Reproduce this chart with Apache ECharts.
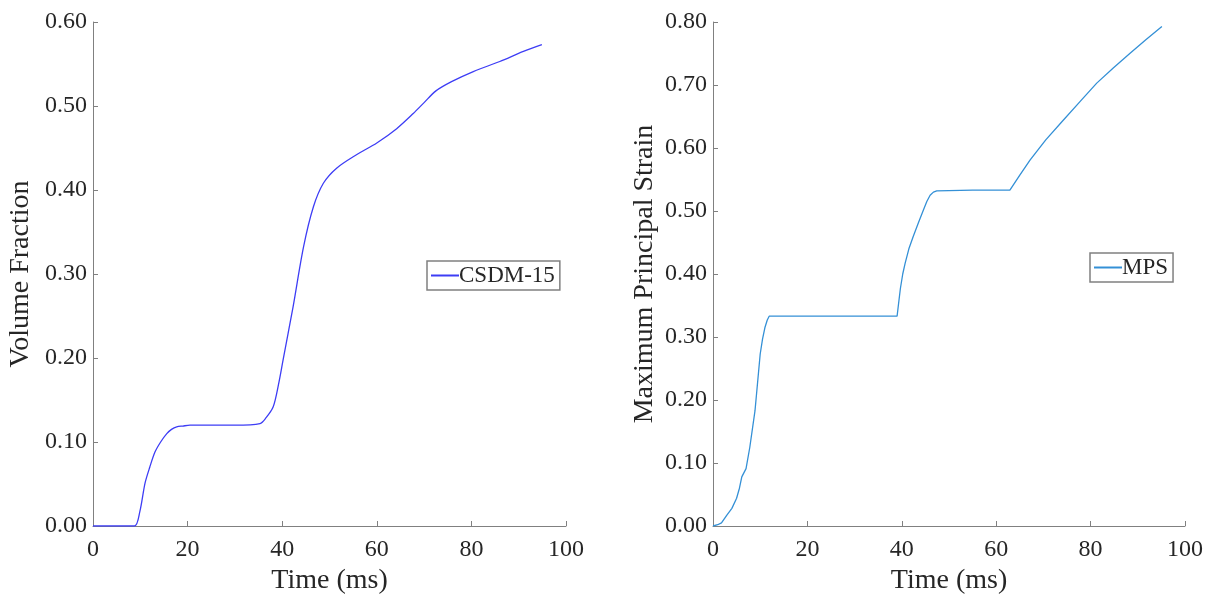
<!DOCTYPE html>
<html>
<head>
<meta charset="utf-8">
<script src="https://cdn.jsdelivr.net/npm/echarts@6/dist/echarts.min.js"></script>
<style>
html,body{margin:0;padding:0;background:#fff;}
#chart{width:1216px;height:595px;}
</style>
</head>
<body>
<div id="chart"></div>
<script>
// Left panel: Volume Fraction (CSDM-15)
const leftTime = [0, 5, 8.8, 9.9, 11, 12, 13.1, 14.3, 15.6, 16.6, 17.7, 19, 20.5, 25, 30, 35.3, 36.6, 38.1, 39.2, 40.2, 42.3, 44.5, 46.6, 48.7, 51.5, 55.7, 60.0, 64.2, 67.7, 70.0, 72.5, 75.8, 80.4, 86.0, 91.0, 94.9];
const leftValue = [0, 0, 0, 0.017, 0.051, 0.07, 0.088, 0.100, 0.110, 0.115, 0.118, 0.119, 0.120, 0.120, 0.120, 0.122, 0.129, 0.142, 0.168, 0.198, 0.261, 0.332, 0.380, 0.408, 0.426, 0.442, 0.456, 0.473, 0.491, 0.504, 0.518, 0.529, 0.541, 0.553, 0.565, 0.573];
// Right panel: Maximum Principal Strain (MPS)
const rightTime = [0, 1.0, 1.8, 2.9, 4.0, 5.0, 5.6, 6.1, 7.0, 7.8, 8.9, 10.0, 10.5, 11.0, 11.5, 11.9, 20, 30, 39.0, 39.3, 39.7, 40.2, 40.7, 41.5, 42.4, 43.5, 44.6, 45.3, 46.0, 46.7, 47.4, 55, 62.9, 65.0, 67.2, 70.5, 74.2, 77.8, 81.3, 84.8, 88.3, 91.7, 95.1];
const rightValue = [0, 0.002, 0.005, 0.017, 0.028, 0.044, 0.060, 0.078, 0.091, 0.125, 0.183, 0.273, 0.297, 0.315, 0.327, 0.333, 0.333, 0.333, 0.333, 0.352, 0.377, 0.400, 0.417, 0.440, 0.459, 0.481, 0.502, 0.515, 0.525, 0.530, 0.532, 0.533, 0.533, 0.557, 0.581, 0.613, 0.644, 0.674, 0.703, 0.727, 0.750, 0.772, 0.793];
const xTicks = [0, 20, 40, 60, 80, 100];
const leftName = 'CSDM-15';
const rightName = 'MPS';
const leftYLabel = 'Volume Fraction';
const rightYLabel = 'Maximum Principal Strain';
const xLabel = 'Time (ms)';

const FONT = "'Liberation Serif', 'Times New Roman', serif";
const TXT = '#262626';
const AX = '#808080';

function pairs(xs, ys){ return xs.map((x,i)=>[x, ys[i]]); }

function xAxisCfg(idx){
  return {
    gridIndex: idx, type: 'value', min: xTicks[0], max: xTicks[xTicks.length-1], interval: 20,
    name: xLabel, nameLocation: 'middle', nameGap: 41,
    nameTextStyle: {fontFamily: FONT, fontSize: 28, color: TXT},
    axisLine: {show: true, lineStyle: {color: AX, width: 1}},
    axisTick: {show: true, inside: true, length: 5, lineStyle: {color: AX}},
    axisLabel: {fontFamily: FONT, fontSize: 24, color: TXT, margin: 12},
    splitLine: {show: false}
  };
}
function yAxisCfg(idx, max, name, gap){
  return {
    gridIndex: idx, type: 'value', min: 0, max: max, interval: 0.1,
    name: name, nameLocation: 'middle', nameGap: gap,
    nameTextStyle: {fontFamily: FONT, fontSize: 28, color: TXT},
    axisLine: {show: true, lineStyle: {color: AX, width: 1}},
    axisTick: {show: true, inside: true, length: 5, lineStyle: {color: AX}},
    axisLabel: {fontFamily: FONT, fontSize: 24, color: TXT, margin: 6, formatter: v => v.toFixed(2)},
    splitLine: {show: false}
  };
}

const legendBase = {
  orient: 'vertical', itemWidth: 28, itemHeight: 14, padding: [3, 5, 3, 3],
  borderColor: AX, borderWidth: 1.5, borderRadius: 0,
  itemStyle: {opacity: 0},
  textStyle: {fontFamily: FONT, fontSize: 23, color: TXT, padding: [2, 0, 0, -5]}
};

const chart = echarts.init(document.getElementById('chart'), null, {renderer: 'canvas'});
chart.setOption({
  animation: false,
  backgroundColor: '#ffffff',
  grid: [
    {left: 93, top: 22, width: 473, height: 504, outerBoundsMode: 'none', containLabel: false},
    {left: 713, top: 22, width: 472, height: 504, outerBoundsMode: 'none', containLabel: false}
  ],
  xAxis: [xAxisCfg(0), xAxisCfg(1)],
  yAxis: [yAxisCfg(0, 0.6, leftYLabel, 58), yAxisCfg(1, 0.8, rightYLabel, 54)],
  legend: [
    Object.assign({data: [leftName], left: 427, top: 261}, legendBase),
    Object.assign({data: [rightName], left: 1090, top: 253}, legendBase)
  ],
  series: [
    {
      name: leftName, type: 'line', xAxisIndex: 0, yAxisIndex: 0,
      data: pairs(leftTime, leftValue), symbol: 'none', smooth: 0.3,
      lineStyle: {color: '#3d3df5', width: 1.3}, itemStyle: {color: '#3d3df5'}
    },
    {
      name: rightName, type: 'line', xAxisIndex: 1, yAxisIndex: 1,
      data: pairs(rightTime, rightValue), symbol: 'none', smooth: false,
      lineStyle: {color: '#3490d6', width: 1.3}, itemStyle: {color: '#3490d6'}
    }
  ]
});
</script>
</body>
</html>
